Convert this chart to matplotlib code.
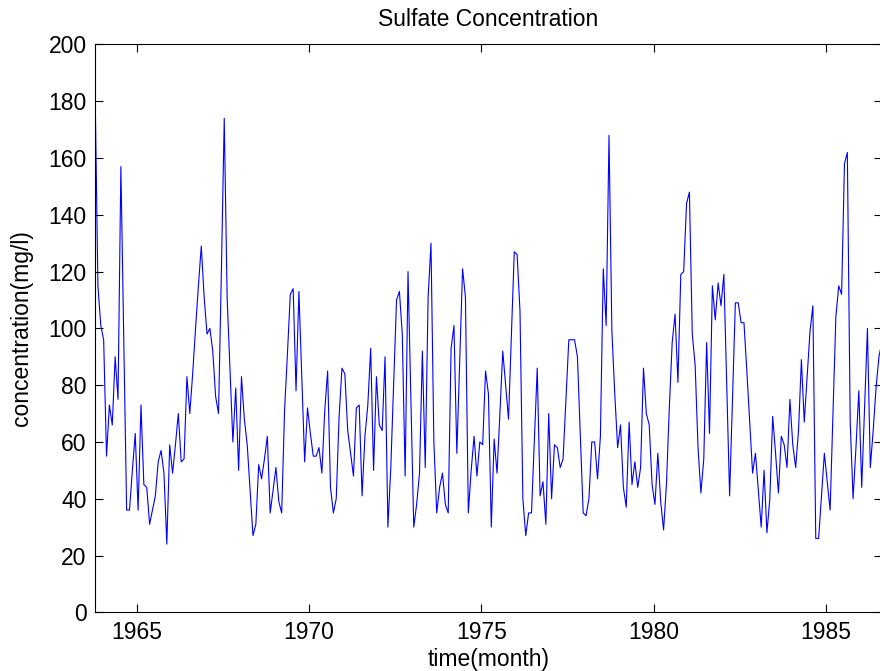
import numpy as np
import matplotlib
matplotlib.use("Agg")
import matplotlib.pyplot as plt

# monthly sulfate readings (mg/l)
start_year = 1963.79
sulfate = [
    185, 115, 101, 96, 55, 73, 66, 90, 75, 157,
    96, 36, 36, 50, 63, 36, 73, 45, 44, 31,
    36, 41, 53, 57, 49, 24, 59, 49, 59, 70,
    53, 54, 83, 70, 84, 100, 115, 129, 111, 98,
    100, 92, 76, 70, 120, 174, 111, 85, 60, 79,
    50, 83, 68, 59, 43, 27, 31, 52, 47, 54,
    62, 35, 43, 51, 39, 35, 71, 91, 112, 114,
    78, 113, 83, 53, 72, 63, 55, 55, 58, 49,
    71, 85, 44, 35, 40, 69, 86, 84, 64, 56,
    48, 72, 73, 41, 62, 73, 93, 50, 83, 66,
    64, 90, 30, 51, 80, 110, 113, 98, 48, 120,
    75, 30, 38, 49, 92, 51, 111, 130, 60, 35,
    44, 49, 38, 35, 93, 101, 56, 88, 121, 111,
    35, 50, 62, 48, 60, 59, 85, 77, 30, 61,
    49, 70, 92, 80, 68, 97, 127, 126, 106, 40,
    27, 35, 35, 61, 86, 41, 46, 31, 70, 40,
    59, 58, 51, 54, 75, 96, 96, 96, 90, 63,
    35, 34, 40, 60, 60, 47, 62, 121, 101, 168,
    99, 77, 58, 66, 44, 37, 67, 45, 53, 44,
    51, 86, 70, 66, 45, 38, 56, 39, 29, 45,
    72, 95, 105, 81, 119, 120, 144, 148, 98, 87,
    58, 42, 54, 95, 63, 115, 103, 116, 108, 119,
    80, 41, 75, 109, 109, 102, 102, 85, 67, 49,
    56, 43, 30, 50, 28, 40, 69, 56, 42, 62,
    59, 51, 75, 59, 51, 64, 89, 67, 83, 99,
    108, 26, 26, 41, 56, 46, 36, 70, 104, 115,
    112, 158, 162, 67, 40, 58, 78, 44, 72, 100,
    51, 64, 79, 90, 95,
]
year_ticks = [1965, 1970, 1975, 1980, 1985]
conc_ticks = list(range(0, 201, 20))

t = start_year + np.arange(len(sulfate)) / 12.0

plt.rcParams['font.family'] = ['Liberation Sans', 'DejaVu Sans']
fs = 16.5

fig = plt.figure(figsize=(8.8, 6.71), dpi=100)
ax = fig.add_axes([0.108, 0.0875, 0.8943, 0.8462])
ax.plot(t, sulfate, color='blue', linewidth=0.8)

ax.set_xlim(start_year, 1986.63)
ax.set_ylim(0, 200)
ax.set_xticks(year_ticks)
ax.set_yticks(conc_ticks)
ax.tick_params(direction='in', length=5.5, width=0.8, labelsize=fs,
               top=True, right=True, pad=6)
for s in ax.spines.values():
    s.set_linewidth(0.8)

ax.set_title('Sulfate Concentration', fontsize=fs, pad=13)
ax.set_xlabel('time(month)', fontsize=fs, labelpad=3)
ax.set_ylabel('concentration(mg/l)', fontsize=fs, labelpad=11)

fig.savefig('out.png', dpi=100)
